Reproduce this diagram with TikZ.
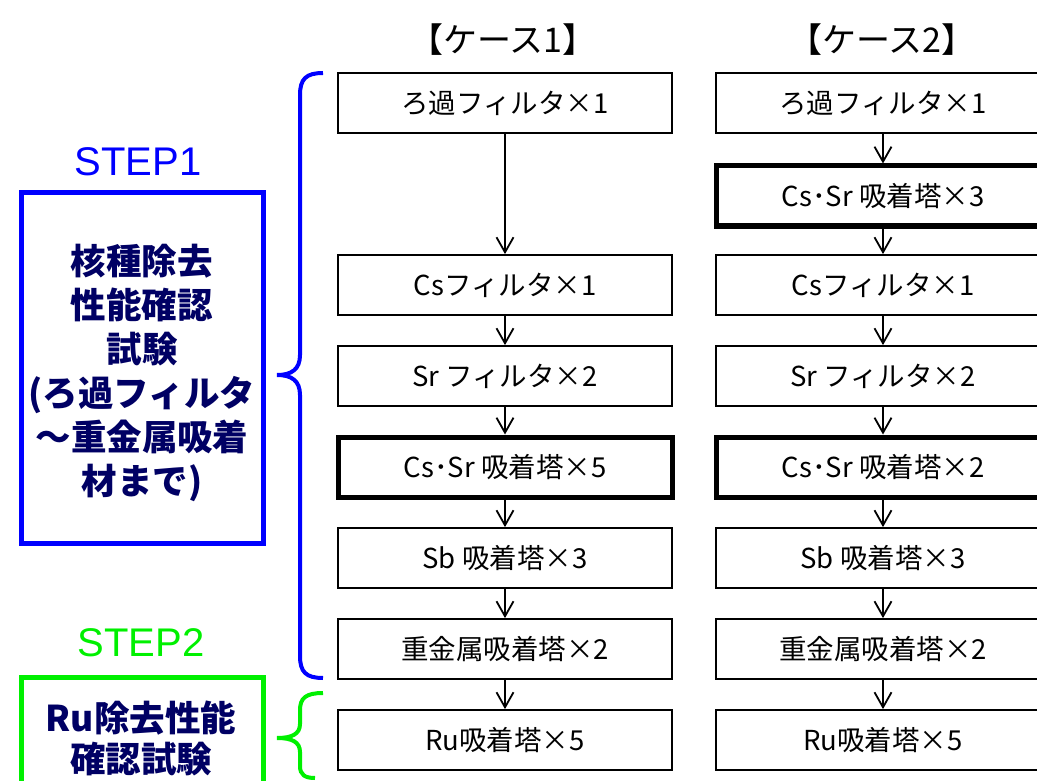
\documentclass[tikz,border=0pt]{standalone}
\usepackage{fontspec}
\setmainfont{Noto Sans CJK JP}
\newfontfamily\stepfont{Liberation Sans}
\usepackage{tikz}
\usetikzlibrary{arrows.meta,positioning,calc}
\definecolor{navy}{RGB}{0,0,100}
\definecolor{stepgreen}{RGB}{0,240,0}
\tikzset{flowbox/.style={draw,line width=1.8pt,minimum width=334pt,minimum height=60pt,inner sep=0pt,font=\fontsize{27.5}{30}\selectfont},
  heavybox/.style={flowbox,line width=5pt},
  flowarrow/.style={line width=1.8pt,-{Straight Barb[length=15pt,width=17pt,line width=1.8pt]}}}

\begin{document}
\begin{tikzpicture}[x=1pt,y=-1pt]
\useasboundingbox (0,0) rectangle (1037,781);
% headings
\node (h1) at (503,40) {\fontsize{34}{38}\selectfont 【ケース1】};
\node (h2) at (882,40) {\fontsize{34}{38}\selectfont 【ケース2】};
% case 1
\node [flowbox] (a1) at (505,103) {ろ過フィルタ×1};
\node [flowbox] (a3) at (505,285) {Csフィルタ×1};
\node [flowbox] (a4) at (505,376) {Sr フィルタ×2};
\node [heavybox] (a5) at (505,467) {Cs･Sr 吸着塔×5};
\node [flowbox] (a6) at (505,558) {Sb 吸着塔×3};
\node [flowbox] (a7) at (505,649) {重金属吸着塔×2};
\node [flowbox] (a8) at (505,740) {Ru吸着塔×5};
% case 2
\node [flowbox] (b1) at (883,103) {ろ過フィルタ×1};
\node [heavybox] (b2) at (883,196) {Cs･Sr 吸着塔×3};
\node [flowbox] (b3) at (883,285) {Csフィルタ×1};
\node [flowbox] (b4) at (883,376) {Sr フィルタ×2};
\node [heavybox] (b5) at (883,467) {Cs･Sr 吸着塔×2};
\node [flowbox] (b6) at (883,558) {Sb 吸着塔×3};
\node [flowbox] (b7) at (883,649) {重金属吸着塔×2};
\node [flowbox] (b8) at (883,740) {Ru吸着塔×5};
% arrows
\draw [flowarrow] (a1) -- (a3);
\foreach \i/\j in {3/4,4/5,5/6,6/7,7/8} {
  \draw [flowarrow] (a\i) -- (a\j);
}
\foreach \i/\j in {1/2,2/3,3/4,4/5,5/6,6/7,7/8} {
  \draw [flowarrow] (b\i) -- (b\j);
}
% steps
\node [text=blue,font=\stepfont\fontsize{40}{44}\selectfont] (s1) at (138,162) {STEP1};
\node [draw=blue,line width=5pt,minimum width=242pt,minimum height=350pt] (p1) at (142,368) {};
\node [text=navy,font=\bfseries\fontsize{35.5}{44}\selectfont,align=center] (t1) at (142,373)
  {核種除去\\性能確認\\試験\\(ろ過フィルタ\\～重金属吸着\\材まで)};
\node [text=stepgreen,font=\stepfont\fontsize{40}{44}\selectfont] (s2) at (141,643) {STEP2};
\node [draw=stepgreen,line width=5pt,minimum width=242pt,minimum height=130pt] (p2) at (142,742) {};
\node [text=navy,font=\bfseries\fontsize{35.5}{41}\selectfont,align=center] (t2) at (141,738)
  {Ru除去性能\\確認試験};
% braces
\draw [blue,line width=4pt] (323,73) .. controls (306,73) and (300,79) .. (300,95)
  -- (300,355) .. controls (300,369) and (292,375) .. (277,375)
  .. controls (292,375) and (300,381) .. (300,395)
  -- (300,656) .. controls (300,672) and (306,678) .. (323,678);
\draw [stepgreen,line width=4pt] (323,693) .. controls (306,693) and (300,698) .. (300,710)
  -- (300,724) .. controls (300,734) and (292,738) .. (277,738)
  .. controls (292,738) and (300,742) .. (300,752)
  -- (300,766) .. controls (300,775) and (305,778) .. (315,778);
\end{tikzpicture}
\end{document}
